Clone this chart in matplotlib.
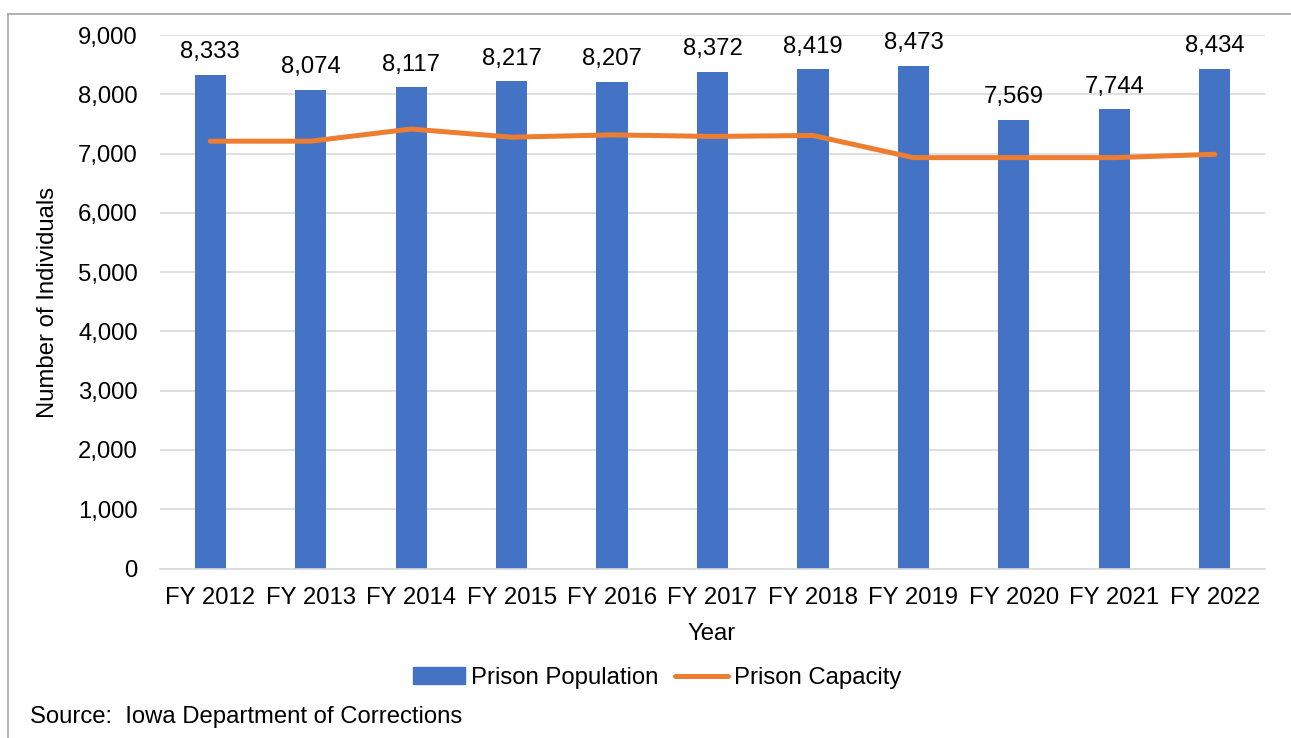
import matplotlib
matplotlib.use("Agg")
import matplotlib.pyplot as plt
from matplotlib.lines import Line2D
import numpy as np

years = ["FY 2012", "FY 2013", "FY 2014", "FY 2015", "FY 2016", "FY 2017",
         "FY 2018", "FY 2019", "FY 2020", "FY 2021", "FY 2022"]
population = [8333, 8074, 8117, 8217, 8207, 8372, 8419, 8473, 7569, 7744, 8434]
capacity = [7209, 7209, 7414, 7276, 7315, 7289, 7305, 6931, 6931, 6931, 6988]
yticks = [0, 1000, 2000, 3000, 4000, 5000, 6000, 7000, 8000, 9000]

BLUE = "#4472C4"
ORANGE = "#ED7D31"
FS = 17.2
plt.rcParams["font.family"] = ["Liberation Sans", "DejaVu Sans"]

fig = plt.figure(figsize=(12.91, 7.38), dpi=100)
W, H = 1291, 738
ax = fig.add_axes([160 / W, 1 - 568.5 / H, (1265 - 160) / W, (568.5 - 35) / H])

x = np.arange(len(years))
bars = ax.bar(x, population, width=0.31, color=BLUE, zorder=2, label="Prison Population")
ax.plot(x, capacity, color=ORANGE, lw=3.6, solid_capstyle="round", solid_joinstyle="round",
        zorder=3, label="Prison Capacity")

for xi, v in zip(x, population):
    ax.annotate(f"{v:,}", (xi, v), xytext=(0, 8.5), textcoords="offset points",
                ha="center", va="bottom", fontsize=FS, color="#000000", clip_on=False)

ax.set_xlim(-0.5, len(years) - 0.5)
ax.set_ylim(0, 9000)
ax.set_yticks(yticks)
ax.set_yticklabels([f"{t:,}" for t in yticks])
ax.set_xticks(x)
ax.set_xticklabels(years)
ax.tick_params(axis="both", length=0, labelsize=FS, colors="#000000")
ax.tick_params(axis="y", pad=16)
ax.tick_params(axis="x", pad=13.5)
ax.yaxis.grid(True, color="#D9D9D9", lw=1.2, zorder=0)
ax.set_axisbelow(True)
for s in ["top", "right", "left"]:
    ax.spines[s].set_visible(False)
ax.spines["bottom"].set_color("#D9D9D9")
ax.spines["bottom"].set_linewidth(1.2)

fig.text(48 / W, 1 - 302 / H, "Number of Individuals", rotation=90, ha="center", va="center",
         fontsize=FS)
fig.text(712 / W, 1 - 634 / H, "Year", ha="center", va="center", fontsize=FS)

handles = [plt.Rectangle((0, 0), 1, 1, color=BLUE),
           Line2D([0], [0], color=ORANGE, lw=3.6, solid_capstyle="round")]
fig.legend(handles, ["Prison Population", "Prison Capacity"], loc="center",
           bbox_to_anchor=(657 / W, 1 - 678 / H), ncol=2, frameon=False, fontsize=FS,
           handlelength=2.2, handletextpad=0.25, columnspacing=0.7, borderpad=0)

fig.text(30 / W, 1 - 717 / H, "Source:  Iowa Department of Corrections", ha="left", va="center",
         fontsize=FS)

# outer frame
fig.add_artist(Line2D([7.5 / W, 7.5 / W], [0, 1 - 14 / H], transform=fig.transFigure,
                      color="#A6A6A6", lw=1.2))
fig.add_artist(Line2D([7.5 / W, 1], [1 - 14 / H, 1 - 14 / H], transform=fig.transFigure,
                      color="#A6A6A6", lw=1.2))

fig.savefig("out.png", dpi=100)
